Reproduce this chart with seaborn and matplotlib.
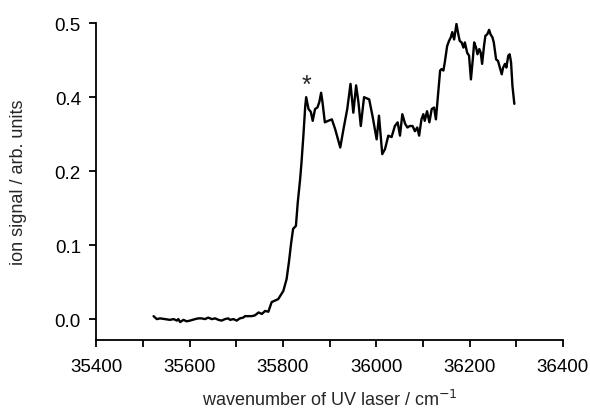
import matplotlib
matplotlib.use("Agg")
import matplotlib.pyplot as plt
import seaborn as sns
import pandas as pd
from matplotlib.ticker import MultipleLocator

# spectrum (y in axis units, labels relabelled below)
wavenumber = [
    35523, 35530, 35537, 35548, 35558, 35566, 35573, 35576, 35580, 35587,
    35594, 35601, 35612, 35619, 35626, 35633, 35640, 35648, 35655, 35662,
    35669, 35676, 35683, 35687, 35694, 35701, 35708, 35715, 35719, 35726,
    35733, 35740, 35748, 35755, 35762, 35769, 35776, 35783, 35790, 35801,
    35808, 35813, 35818, 35822, 35828, 35832, 35837, 35840, 35844, 35848,
    35850, 35855, 35860, 35864, 35869, 35874, 35878, 35882, 35885, 35890,
    35897, 35905, 35912, 35919, 35923, 35930, 35938, 35945, 35951, 35957,
    35962, 35967, 35974, 35981, 35985, 35992, 36001, 36006, 36013, 36019,
    36026, 36033, 36040, 36046, 36051, 36056, 36062, 36067, 36072, 36078,
    36083, 36088, 36092, 36097, 36101, 36104, 36109, 36114, 36119, 36124,
    36128, 36133, 36137, 36140, 36144, 36147, 36152, 36156, 36160, 36163,
    36167, 36172, 36176, 36179, 36183, 36187, 36190, 36195, 36199, 36203,
    36207, 36210, 36214, 36217, 36221, 36224, 36227, 36231, 36234, 36238,
    36242, 36245, 36249, 36252, 36257, 36261, 36265, 36269, 36272, 36276,
    36279, 36283, 36286, 36289, 36292, 36296,
]
ion_signal = [
    0.004, 0.000, 0.001, 0.000, -0.001, 0.000, -0.002, 0.000, -0.004, -0.001,
    -0.003, -0.002, 0.000, 0.001, 0.001, 0.000, 0.002, 0.000, 0.001, -0.001,
    -0.002, 0.000, 0.001, -0.001, 0.000, -0.002, 0.001, 0.002, 0.004, 0.004,
    0.004, 0.005, 0.009, 0.007, 0.011, 0.010, 0.023, 0.025, 0.027, 0.038,
    0.054, 0.077, 0.104, 0.122, 0.126, 0.158, 0.189, 0.212, 0.248, 0.288,
    0.300, 0.284, 0.280, 0.268, 0.284, 0.286, 0.293, 0.306, 0.293, 0.266,
    0.268, 0.270, 0.257, 0.241, 0.232, 0.257, 0.284, 0.318, 0.279, 0.316,
    0.293, 0.261, 0.300, 0.298, 0.297, 0.275, 0.243, 0.275, 0.223, 0.230,
    0.248, 0.246, 0.261, 0.266, 0.248, 0.277, 0.264, 0.259, 0.261, 0.261,
    0.254, 0.259, 0.248, 0.270, 0.277, 0.268, 0.281, 0.266, 0.284, 0.286,
    0.270, 0.306, 0.336, 0.338, 0.336, 0.347, 0.369, 0.376, 0.381, 0.388,
    0.378, 0.399, 0.385, 0.376, 0.374, 0.367, 0.374, 0.360, 0.356, 0.324,
    0.351, 0.374, 0.367, 0.358, 0.365, 0.360, 0.345, 0.369, 0.383, 0.385,
    0.391, 0.385, 0.381, 0.374, 0.351, 0.349, 0.340, 0.331, 0.340, 0.345,
    0.340, 0.356, 0.358, 0.347, 0.315, 0.291,
]

y_ticks = [0.0, 0.1, 0.2, 0.3, 0.4]
y_ticklabels = ["0.0", "0.1", "0.2", "0.4", "0.5"]
marked_peak = 35850

df = pd.DataFrame({"wavenumber": wavenumber, "signal": ion_signal})

sns.set_style("ticks")
plt.rcParams["font.family"] = ["Liberation Sans", "DejaVu Sans"]

fig = plt.figure(figsize=(5.9, 4.1), dpi=100)
ax = fig.add_axes([0.163, 0.168, 0.791, 0.773])

sns.lineplot(data=df, x="wavenumber", y="signal", color="black",
             linewidth=1.7, sort=False, estimator=None, ax=ax)

peak_y = df.loc[df["wavenumber"] == marked_peak, "signal"].iloc[0]
ax.annotate("*", xy=(marked_peak, peak_y), xytext=(0, 0), textcoords="offset points",
            ha="center", va="bottom", fontsize=18)

ax.set_xlim(35400, 36400)
ax.set_ylim(-0.0284, 0.4)
ax.xaxis.set_major_locator(MultipleLocator(200))
ax.xaxis.set_minor_locator(MultipleLocator(100))
ax.set_yticks(y_ticks)
ax.set_yticklabels(y_ticklabels)

sns.despine(ax=ax)
for side in ["left", "bottom"]:
    ax.spines[side].set_linewidth(1.3)
    ax.spines[side].set_color("black")
ax.tick_params(which="both", direction="out", length=5, width=1.3, color="black",
               labelsize=13.5, labelcolor="black")
ax.tick_params(axis="x", pad=8)
ax.tick_params(axis="y", pad=6)

ax.set_xlabel("wavenumber of UV laser / cm$^{-1}$", fontsize=13, labelpad=10)
ax.set_ylabel("ion signal / arb. units", fontsize=13, labelpad=20)

fig.savefig("out.png", dpi=100)
